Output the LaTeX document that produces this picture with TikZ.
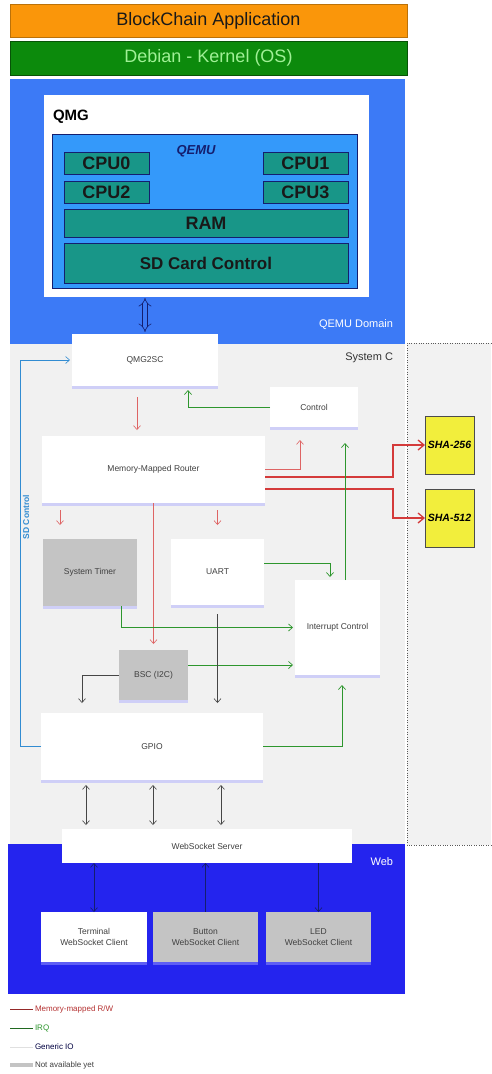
\documentclass[tikz,border=0pt]{standalone}
\usepackage{fontspec}
\setmainfont{Liberation Sans}
\usetikzlibrary{positioning,arrows.meta,shadows}

\definecolor{appOrange}{RGB}{250,150,10}
\definecolor{osGreen}{RGB}{12,138,12}
\definecolor{osText}{RGB}{160,240,150}
\definecolor{qemuBlue}{RGB}{60,122,246}
\definecolor{coreBlue}{RGB}{52,153,250}
\definecolor{cpuTeal}{RGB}{24,150,136}
\definecolor{webBlue}{RGB}{36,36,238}
\definecolor{scGray}{RGB}{241,241,241}
\definecolor{naGray}{RGB}{196,196,196}
\definecolor{shaYellow}{RGB}{242,238,60}
\definecolor{mmRed}{RGB}{222,100,100}
\definecolor{shaRed}{RGB}{212,58,58}
\definecolor{irqGreen}{RGB}{45,150,45}
\definecolor{ioGray}{RGB}{70,70,70}
\definecolor{sdBlue}{RGB}{50,140,210}
\definecolor{darkNavy}{RGB}{20,30,110}

\begin{document}
\begin{tikzpicture}[
			x=1pt,y=-1pt,
			every node/.style={
				inner sep=0pt,
				outer sep=0pt,
				align=center
			},
			plainblock/.style={
				anchor=north west,
				fill=white,
				text=black!75,
				font=\fontsize{8.5}{10.5}\selectfont
			},
			block/.style={
				plainblock,
				drop shadow={shadow xshift=0pt,shadow yshift=-2.5pt,fill=blue!35,opacity=0.45}
			},
			nablock/.style={block,fill=naGray},
			cpu/.style={
				anchor=north west,
				fill=cpuTeal,
				draw=darkNavy,
				line width=0.8pt,
				text=black!90,
				font=\bfseries\fontsize{18}{18}\selectfont
			},
			sha/.style={
				anchor=north west,
				fill=shaYellow,
				draw=black!70,
				line width=0.8pt,
				minimum width=49pt,
				minimum height=58pt,
				font=\bfseries\itshape\fontsize{10.5}{12}\selectfont
			},
			rw/.style={draw=mmRed,line width=0.6pt,-{Straight Barb[length=4pt,width=7pt]}},
			rwbus/.style={draw=shaRed,line width=1.3pt,-{Straight Barb[length=6pt,width=10pt]}},
			irq/.style={draw=irqGreen,line width=0.7pt,-{Straight Barb[length=4pt,width=7pt]}},
			gio/.style={draw=ioGray,line width=0.6pt,-{Straight Barb[length=4pt,width=7pt]}},
			domainlabel/.style={font=\fontsize{11}{13}\selectfont,anchor=east}
			]
			
			\useasboundingbox (0,0) rectangle (491,1074);
			
			%%%%%%%%%%%%%%%%%%%%%%%%%%%%%%%%%%%%%%%%%%%%%%%%%%%%%%%%%%%%
			% Software Stack
			%%%%%%%%%%%%%%%%%%%%%%%%%%%%%%%%%%%%%%%%%%%%%%%%%%%%%%%%%%%%
			
			\node (app) [anchor=north west,fill=appOrange,draw=appOrange!75!black,
			minimum width=397pt,minimum height=33pt,text=black!90,
			font=\fontsize{18}{20}\selectfont] at (10,4)
			{BlockChain Application};
			
			\node (os) [below=4pt of app,fill=osGreen,draw=osGreen!60!black,
			minimum width=397pt,minimum height=34pt,text=osText,
			font=\fontsize{18}{20}\selectfont]
			{Debian - Kernel (OS)};
			
			%%%%%%%%%%%%%%%%%%%%%%%%%%%%%%%%%%%%%%%%%%%%%%%%%%%%%%%%%%%%
			% Domains
			%%%%%%%%%%%%%%%%%%%%%%%%%%%%%%%%%%%%%%%%%%%%%%%%%%%%%%%%%%%%
			
			\fill[scGray] (10,343) rectangle (405,845);
			
			\fill[black!5] (407,343) rectangle (491,845);
			\draw[dotted,black!65] (491,343) -- (407,343) -- (407,845) -- (491,845);
			
			\fill[qemuBlue] (10,79) rectangle (405,344);
			
			\fill[webBlue] (8,844) rectangle (405,994);
			
			\node (qemudom) [domainlabel,text=white] at (393,325) {QEMU Domain};
			\node (sysc) [domainlabel,text=black!80] at (393,358) {System C};
			\node (web) [domainlabel,text=white] at (393,862) {Web};
			
			%%%%%%%%%%%%%%%%%%%%%%%%%%%%%%%%%%%%%%%%%%%%%%%%%%%%%%%%%%%%
			% QEMU Layer
			%%%%%%%%%%%%%%%%%%%%%%%%%%%%%%%%%%%%%%%%%%%%%%%%%%%%%%%%%%%%
			
			\node (qmg) [anchor=north west,fill=white,
			minimum width=325pt,minimum height=202pt] at (44,95) {};
			
			\node (qmglabel) [anchor=west,font=\bfseries\fontsize{15}{15}\selectfont]
			at (53,117) {QMG};
			
			\node (qemu) [anchor=north west,fill=coreBlue,draw=darkNavy,line width=0.8pt,
			minimum width=305pt,minimum height=154pt] at (52,134) {};
			
			\node (qemulabel) [font=\bfseries\itshape\fontsize{13}{13}\selectfont,text=darkNavy]
			at (196,151) {QEMU};
			
			\node (cpu0) [cpu,minimum width=85pt,minimum height=22pt] at (64,152) {CPU0};
			\node (cpu2) [cpu,minimum width=85pt,minimum height=22pt,below=7pt of cpu0] {CPU2};
			\node (cpu1) [cpu,minimum width=85pt,minimum height=22pt] at (263,152) {CPU1};
			\node (cpu3) [cpu,minimum width=85pt,minimum height=22pt,below=7pt of cpu1] {CPU3};
			
			\node (ram) [cpu,minimum width=284pt,minimum height=28pt] at (64,209) {RAM};
			
			\node (sdcard) [cpu,minimum width=284pt,minimum height=40pt,
			font=\bfseries\fontsize{17}{17}\selectfont] at (64,243) {SD Card Control};
			
			%%%%%%%%%%%%%%%%%%%%%%%%%%%%%%%%%%%%%%%%%%%%%%%%%%%%%%%%%%%%
			% System C Layer
			%%%%%%%%%%%%%%%%%%%%%%%%%%%%%%%%%%%%%%%%%%%%%%%%%%%%%%%%%%%%
			
			\node (qmg2sc) [block,minimum width=146pt,minimum height=52pt] at (72,334) {QMG2SC};
			
			\node (control) [block,minimum width=88pt,minimum height=40pt] at (270,387) {Control};
			
			\node (mmr) [block,minimum width=223pt,minimum height=67pt] at (42,436)
			{Memory-Mapped Router};
			
			\node (timer) [nablock,minimum width=94pt,minimum height=67pt] at (43,539)
			{System Timer};
			
			\node (uart) [block,minimum width=93pt,minimum height=66pt] at (171,539) {UART};
			
			\node (intc) [block,minimum width=85pt,minimum height=95pt] at (295,580)
			{Interrupt Control};
			
			\node (bsc) [nablock,minimum width=69pt,minimum height=50pt] at (119,650)
			{BSC (I2C)};
			
			\node (gpio) [block,minimum width=222pt,minimum height=67pt] at (41,713) {GPIO};
			
			\node (sha256) [sha] at (425,416) {SHA-256};
			\node (sha512) [sha] at (425,489) {SHA-512};
			
			\node (sdlabel) [rotate=90,text=sdBlue,font=\bfseries\fontsize{8.5}{10}\selectfont]
			at (26,517) {SD Control};
			
			%%%%%%%%%%%%%%%%%%%%%%%%%%%%%%%%%%%%%%%%%%%%%%%%%%%%%%%%%%%%
			% Web Layer
			%%%%%%%%%%%%%%%%%%%%%%%%%%%%%%%%%%%%%%%%%%%%%%%%%%%%%%%%%%%%
			
			\node (ws) [plainblock,minimum width=290pt,minimum height=34pt]
			at (62,829) {WebSocket Server};
			
			\node (term) [block,minimum width=106pt,minimum height=50pt] at (41,912)
			{Terminal\\WebSocket Client};
			
			\node (button) [nablock,minimum width=105pt,minimum height=50pt,right=6pt of term]
			{Button\\WebSocket Client};
			
			\node (led) [nablock,minimum width=105pt,minimum height=50pt,right=8pt of button]
			{LED\\WebSocket Client};
			
			%%%%%%%%%%%%%%%%%%%%%%%%%%%%%%%%%%%%%%%%%%%%%%%%%%%%%%%%%%%%
			% Connections
			%%%%%%%%%%%%%%%%%%%%%%%%%%%%%%%%%%%%%%%%%%%%%%%%%%%%%%%%%%%%
			
			% QEMU bridge
			
			\draw[darkNavy,line width=0.6pt,double=qemuBlue,double distance=4pt,
			{Implies}-{Implies},shorten <=1pt,shorten >=2pt]
			(qmg2sc.north |- qmg.south) -- (qmg2sc.north);
			
			% Memory-mapped
			
			\draw[rw,shorten <=11pt,shorten >=6pt] (137,0 |- qmg2sc.south) -- (137,0 |- mmr.north);
			
			\draw[rw,shorten >=13pt] (mmr.east) -| (control.south -| 300,0);
			
			\draw[rwbus] ([yshift=-7.5pt]mmr.east) -| ([xshift=-32pt]sha256.west) -- (sha256.west);
			
			\draw[rwbus] ([yshift=-19.5pt]mmr.east) -| ([xshift=-32pt]sha512.west) -- (sha512.west);
			
			\draw[rw,shorten <=7pt,shorten >=14pt] (60,0 |- mmr.south) -- (60,0 |- timer.north);
			
			\draw[rw,shorten >=6pt] (bsc.north |- mmr.south) -- (bsc.north);
			
			\draw[rw,shorten <=7pt,shorten >=14pt] (uart.north |- mmr.south) -- (uart.north);
			
			% IRQ
			
			\draw[irq,shorten >=4pt] (control.west) -| (188,0 |- qmg2sc.south);
			
			\draw[irq,shorten >=16pt] (345,0 |- intc.north) -- (345,0 |- control.south);
			
			\draw[irq,shorten >=3pt] ([yshift=9pt]uart.east) -| (330,0 |- intc.north);
			
			\draw[irq,shorten >=2pt] (121,0 |- timer.south) |- (intc.west);
			
			\draw[irq,shorten >=2pt] ([yshift=10pt]bsc.east) -- ([yshift=-37.5pt]intc.west);
			
			\draw[irq,shorten >=10pt] (gpio.east) -| (342,0 |- intc.south);
			
			% Generic IO
			
			\draw[gio,shorten >=10pt] (bsc.west) -| (82,0 |- gpio.north);
			
			\draw[gio,shorten <=9pt,shorten >=10pt] (uart.south) -- (uart.south |- gpio.north);
			
			\foreach \x in {86,153,221}
			\draw[gio,{Straight Barb[length=4pt,width=7pt]}-{Straight Barb[length=4pt,width=7pt]},
			shorten <=5pt,shorten >=4pt] (\x,0 |- gpio.south) -- (\x,0 |- ws.north);
			
			\draw[gio,draw=darkNavy,{Straight Barb[length=4pt,width=7pt]}-{Straight Barb[length=4pt,width=7pt]}]
			(term.north |- ws.south) -- (term.north);
			
			\draw[gio,draw=darkNavy,{Straight Barb[length=4pt,width=7pt]}-]
			(button.north |- ws.south) -- (button.north);
			
			\draw[gio,draw=darkNavy] (led.north |- ws.south) -- (led.north);
			
			% SD control
			
			\draw[draw=sdBlue,line width=0.6pt,-{Straight Barb[length=4pt,width=7pt]},shorten >=2pt]
			(gpio.west) -- (20,0 |- gpio.west) |- (qmg2sc.west);
			
			%%%%%%%%%%%%%%%%%%%%%%%%%%%%%%%%%%%%%%%%%%%%%%%%%%%%%%%%%%%%
			% Legend
			%%%%%%%%%%%%%%%%%%%%%%%%%%%%%%%%%%%%%%%%%%%%%%%%%%%%%%%%%%%%
			
			\draw[shaRed!70!black,line width=0.8pt] (10,1009) -- (33,1009);
			\node (lgrw) [anchor=west,text=shaRed!85!black,font=\fontsize{8}{10}\selectfont]
			at (35,1009) {Memory-mapped R/W};
			
			\draw[irqGreen!70!black,line width=0.8pt] (10,1028) -- (33,1028);
			\node (lgirq) [anchor=west,text=irqGreen,font=\fontsize{8}{10}\selectfont]
			at (35,1028) {IRQ};
			
			\draw[black!12,line width=0.6pt] (10,1047) -- (33,1047);
			\node (lgio) [anchor=west,text=black!75!blue,font=\fontsize{8}{10}\selectfont]
			at (35,1047) {Generic IO};
			
			\draw[naGray,line width=4pt] (10,1065) -- (33,1065);
			\node (lgna) [anchor=west,text=black!75,font=\fontsize{8}{10}\selectfont]
			at (35,1065) {Not available yet};
			
		\end{tikzpicture}
\end{document}
